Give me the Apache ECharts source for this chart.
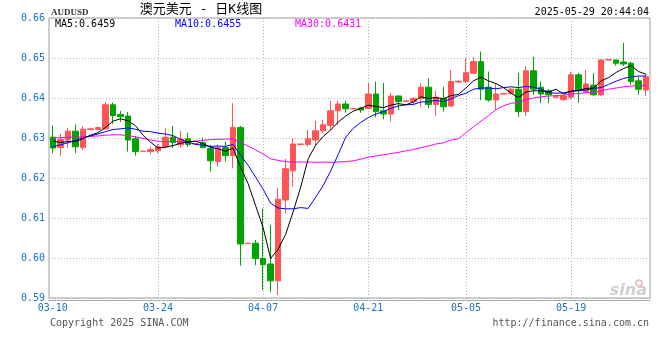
<!DOCTYPE html>
<html><head><meta charset="utf-8">
<script src="https://cdn.jsdelivr.net/npm/echarts@6/dist/echarts.min.js"></script>
<style>html,body{margin:0;padding:0;background:#fff}#c{width:660px;height:360px}</style>
</head><body><div id="c"></div>
<script>
const dates = ['03-10','03-11','03-12','03-13','03-14','03-15','03-16','03-17','03-18','03-19',
'03-20','03-21','03-22','03-23','03-24','03-25','03-26','03-27','03-28','03-29',
'03-30','03-31','04-01','04-02','04-03','04-04','04-05','04-06','04-07','04-08',
'04-09','04-10','04-11','04-12','04-13','04-14','04-15','04-16','04-17','04-18',
'04-19','04-20','04-21','04-22','04-23','04-24','04-25','04-26','04-27','04-28',
'04-29','04-30','05-01','05-02','05-03','05-05','05-06','05-07','05-08','05-09',
'05-10','05-11','05-12','05-13','05-14','05-15','05-16','05-17','05-18','05-19',
'05-20','05-21','05-22','05-23','05-24','05-25','05-26','05-27','05-28','05-29'];
const opens = [.6302,.6276,.6295,.6317,.6276,.6321,.6321,.6323,.6383,.6359,
.6355,.6298,.6266,.6266,.6268,.6278,.6302,.6283,.6298,.6285,
.6288,.6274,.6241,.6276,.6256,.6326,.6036,.6037,.5999,.5985,
.5943,.6145,.6218,.6284,.6284,.6295,.6318,.6331,.6368,.6385,
.6373,.6375,.6374,.6410,.6368,.6360,.6405,.6392,.6391,.6399,
.6427,.6384,.6399,.6380,.6440,.6441,.6462,.6491,.6427,.6395,
.6410,.6412,.6422,.6366,.6468,.6427,.6418,.6402,.6396,.6402,
.6458,.6416,.6432,.6408,.6495,.6495,.6490,.6487,.6443,.6420];
const closes = [.6275,.6296,.6317,.6278,.6322,.6323,.6326,.6383,.6356,.6353,
.6295,.6266,.6267,.6271,.6278,.6302,.6289,.6297,.6284,.6286,
.6276,.6243,.6276,.6256,.6326,.6035,.6037,.5999,.5983,.5943,
.6147,.6223,.6285,.6285,.6298,.6318,.6333,.6368,.6385,.6373,
.6374,.6370,.6410,.6366,.6360,.6405,.6391,.6393,.6399,.6427,
.6384,.6402,.6378,.6441,.6442,.6463,.6491,.6422,.6395,.6410,
.6411,.6422,.6366,.6468,.6422,.6410,.6408,.6403,.6405,.6458,
.6420,.6435,.6408,.6495,.6496,.6487,.6485,.6441,.6422,.6453];
const lows = [.6262,.6255,.6275,.6262,.6270,.6320,.6319,.6320,.6335,.6340,
.6266,.6256,.6265,.6259,.6262,.6274,.6275,.6276,.6278,.6284,
.6274,.6216,.6228,.6241,.6224,.5981,.6035,.5982,.5920,.5915,
.5908,.6112,.6178,.6283,.6278,.6280,.6313,.6318,.6333,.6363,
.6372,.6363,.6372,.6352,.6347,.6341,.6370,.6391,.6382,.6378,
.6374,.6355,.6366,.6378,.6438,.6437,.6460,.6395,.6391,.6370,
.6409,.6408,.6353,.6355,.6408,.6387,.6387,.6401,.6392,.6397,
.6388,.6412,.6405,.6405,.6494,.6481,.6480,.6433,.6408,.6405];
const highs = [.6331,.6310,.6325,.6334,.6330,.6324,.6328,.6390,.6389,.6368,
.6365,.6305,.6268,.6278,.6285,.6324,.6330,.6318,.6313,.6287,
.6301,.6283,.6283,.6291,.6387,.6330,.6038,.6045,.6124,.6083,
.6176,.6248,.6300,.6286,.6320,.6343,.6345,.6393,.6393,.6393,
.6375,.6378,.6438,.6441,.6438,.6413,.6406,.6394,.6402,.6437,
.6449,.6418,.6428,.6470,.6444,.6499,.6502,.6516,.6466,.6435,
.6412,.6425,.6463,.6480,.6503,.6441,.6422,.6404,.6407,.6466,
.6462,.6470,.6462,.6497,.6497,.6496,.6538,.6491,.6453,.6457];
const ma5 = [.6292,.6289,.6291,.6291,.6298,.6307,.6313,.6326,.6342,.6348,
.6343,.6331,.6307,.6290,.6275,.6277,.6281,.6287,.6290,.6292,
.6286,.6277,.6273,.6267,.6275,.6227,.6186,.6131,.6076,.5999,
.6022,.6059,.6116,.6177,.6248,.6282,.6304,.6320,.6340,.6355,
.6367,.6374,.6382,.6379,.6376,.6382,.6386,.6383,.6390,.6403,
.6399,.6401,.6398,.6406,.6409,.6425,.6443,.6452,.6443,.6436,
.6426,.6412,.6401,.6415,.6418,.6418,.6415,.6422,.6410,.6417,
.6419,.6424,.6425,.6443,.6451,.6464,.6474,.6481,.6466,.6459];
const ma10 = [.6278,.6283,.6288,.6294,.6300,.6305,.6310,.6316,.6321,.6323,
.6325,.6322,.6317,.6316,.6312,.6310,.6306,.6297,.6290,.6284,
.6282,.6279,.6280,.6279,.6284,.6257,.6232,.6202,.6172,.6137,
.6125,.6123,.6123,.6126,.6124,.6152,.6181,.6218,.6259,.6302,
.6324,.6339,.6351,.6360,.6366,.6374,.6380,.6383,.6384,.6390,
.6391,.6394,.6391,.6398,.6406,.6412,.6422,.6425,.6425,.6423,
.6426,.6428,.6426,.6429,.6427,.6422,.6413,.6412,.6413,.6417,
.6418,.6420,.6424,.6426,.6434,.6442,.6449,.6453,.6455,.6455];
const ma30 = [.6300,.6301,.6302,.6302,.6303,.6304,.6305,.6307,.6308,.6308,
.6306,.6303,.6299,.6295,.6292,.6291,.6291,.6291,.6291,.6292,
.6294,.6296,.6297,.6297,.6298,.6289,.6280,.6270,.6260,.6248,
.6244,.6241,.6240,.6240,.6240,.6239,.6240,.6239,.6240,.6241,
.6243,.6247,.6252,.6255,.6258,.6261,.6264,.6268,.6271,.6276,
.6280,.6285,.6288,.6295,.6298,.6313,.6328,.6342,.6356,.6371,
.6380,.6387,.6389,.6396,.6400,.6403,.6405,.6406,.6407,.6410,
.6411,.6414,.6414,.6418,.6422,.6425,.6428,.6430,.6431,.6431];
const labelDates = ['03-10','03-24','04-07','04-21','05-05','05-19'];
const yMin = 0.59, yMax = 0.66, yStep = 0.01;

const mono = '"DejaVu Sans Mono", monospace';
const last = a => a[a.length - 1].toFixed(4);
const chart = echarts.init(document.getElementById('c'), null, {renderer: 'canvas'});
const candles = dates.map((d, i) => [opens[i], closes[i], lows[i], highs[i]]);
const gridCol = '#b4b4b4';
chart.setOption({
  animation: false,
  backgroundColor: '#ffffff',
  grid: {left: 49, right: 10, top: 18, bottom: 62, show: true, borderColor: '#a0a0a0', borderWidth: 1},
  xAxis: {
    type: 'category', data: dates, boundaryGap: true, offset: 2,
    axisLine: {show: true, onZero: false, lineStyle: {color: '#9a9a9a', type: [1, 1]}},
    axisTick: {show: false},
    axisLabel: {interval: (i, v) => labelDates.includes(v), color: '#1a73c8', fontFamily: mono, fontSize: 10, margin: 3},
    splitLine: {show: true, alignWithLabel: true, interval: (i, v) => i > 0 && labelDates.includes(v), lineStyle: {color: gridCol, type: [1, 2]}}
  },
  yAxis: {
    type: 'value', min: yMin, max: yMax, interval: yStep,
    axisLine: {show: false}, axisTick: {show: false},
    axisLabel: {formatter: v => v.toFixed(2), color: '#1a73c8', fontFamily: mono, fontSize: 10, margin: 4},
    splitLine: {show: true, lineStyle: {color: gridCol, type: [1, 2]}}
  },
  series: [
    {type: 'candlestick', data: candles, barWidth: 6,
     itemStyle: {color: '#ff5555', color0: '#00a400', borderColor: '#ff5555', borderColor0: '#00a400', borderWidth: 1}},
    {type: 'line', name: 'MA30', data: ma30, symbol: 'none', lineStyle: {color: '#ff00ff', width: 1}, z: 3},
    {type: 'line', name: 'MA10', data: ma10, symbol: 'none', lineStyle: {color: '#0000ff', width: 1}, z: 3},
    {type: 'line', name: 'MA5', data: ma5, symbol: 'none', lineStyle: {color: '#000000', width: 1}, z: 3}
  ],
  graphic: [
    {type: 'text', left: 51, top: 8, style: {text: 'AUDUSD', font: 'bold 9px "Liberation Serif"', fill: '#333'}},
    {type: 'text', x: 201, y: 9.5, style: {text: '澳元美元 - 日K线图', font: '13px "DejaVu Sans Mono", "Noto Sans CJK SC"', fill: '#000', textAlign: 'center', textVerticalAlign: 'middle'}},
    {type: 'text', x: 649, y: 12, style: {text: '2025-05-29 20:44:04', font: '10px ' + mono, fill: '#000', textAlign: 'right', textVerticalAlign: 'middle'}},
    {type: 'text', x: 55, y: 24.5, z: 10, style: {text: 'MA5:' + last(ma5), font: '10px ' + mono, fill: '#000', textVerticalAlign: 'middle'}},
    {type: 'text', x: 175, y: 24.5, z: 10, style: {text: 'MA10:' + last(ma10), font: '10px ' + mono, fill: '#0000ff', textVerticalAlign: 'middle'}},
    {type: 'text', x: 295, y: 24.5, z: 10, style: {text: 'MA30:' + last(ma30), font: '10px ' + mono, fill: '#ff00ff', textVerticalAlign: 'middle'}},
    {type: 'text', x: 50, y: 323, style: {text: 'Copyright 2025 SINA.COM', font: '10px ' + mono, fill: '#555', textVerticalAlign: 'middle'}},
    {type: 'text', x: 649, y: 323, style: {text: 'http://finance.sina.com.cn', font: '10px ' + mono, fill: '#555', textAlign: 'right', textVerticalAlign: 'middle'}},
    {type: 'circle', shape: {cx: 639, cy: 283, r: 3}, z: 0, style: {fill: 'none', stroke: '#f0b4b4', lineWidth: 1.5}},
    {type: 'text', x: 647, y: 291, z: 0, style: {text: 'sina', font: 'italic bold 16px "DejaVu Sans"', fill: '#cfcfcf', textAlign: 'right', textVerticalAlign: 'middle'}}
  ]
});
</script></body></html>
